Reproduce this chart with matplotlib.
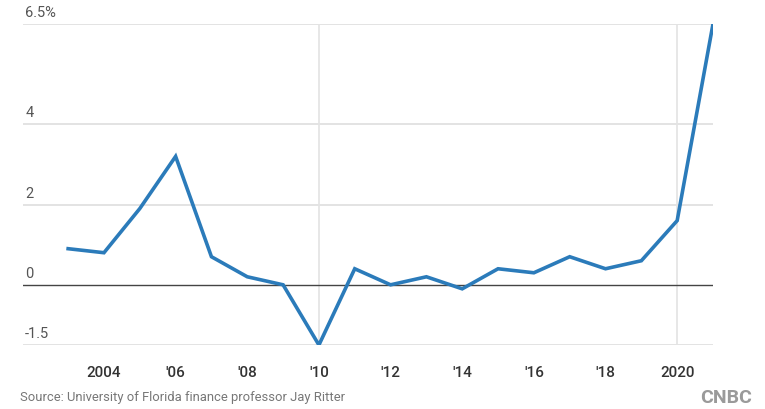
import matplotlib.pyplot as plt
import numpy as np

years = np.arange(2003, 2022)
values = [0.9, 0.8, 1.9, 3.2, 0.7, 0.2, 0.0, -1.5, 0.4, 0.0,
          0.2, -0.1, 0.4, 0.3, 0.7, 0.4, 0.6, 1.6, 6.5]

y_ticks = [-1.5, 0, 2, 4, 6.5]
y_labels = ['-1.5', '0', '2', '4', '6.5%']
x_ticks = [2004, 2006, 2008, 2010, 2012, 2014, 2016, 2018, 2020]
x_labels = ['2004', "'06", "'08", "'10", "'12", "'14", "'16", "'18", '2020']
v_grid = [2010, 2020]

plt.rcParams['font.family'] = ['Roboto', 'DejaVu Sans']

fig = plt.figure(figsize=(7.65, 4.09), dpi=100)
ax = fig.add_axes([23/765, 1 - 345/409, 690/765, 321/409])

# gridlines
for v, lab in zip(y_ticks, y_labels):
    if v == 0:
        ax.axhline(v, color='#444444', lw=1.0, zorder=2)
    else:
        ax.axhline(v, color='#e3e3e3', lw=1.4, zorder=1)
    ax.text(2001.8, v + 0.1, lab, ha='left', va='bottom',
            fontsize=10.5, color='#555555')
for v in v_grid:
    ax.axvline(v, color='#e3e3e3', lw=1.2, zorder=1)

ax.plot(years, values, color='#2b7bba', lw=2.6, solid_joinstyle='miter', zorder=3)

ax.set_xlim(2001.74, 2021)
ax.set_ylim(-1.5, 6.5)
ax.set_xticks(x_ticks)
ax.set_xticklabels(x_labels, fontsize=11, color='#333333', fontweight='medium')
ax.set_yticks([])
ax.tick_params(axis='x', length=0, pad=15)
for s in ax.spines.values():
    s.set_visible(False)
ax.set_facecolor('none')

fig.text(20/765, 1 - 398/409, 'Source: University of Florida finance professor Jay Ritter',
         ha='left', va='center', fontsize=9.4, color='#777777')
fig.text(752/765, 1 - 398/409, 'CNBC', ha='right', va='center', fontsize=14,
         fontweight='bold', color='#9a9a9a')

fig.savefig('out.png', dpi=100)
